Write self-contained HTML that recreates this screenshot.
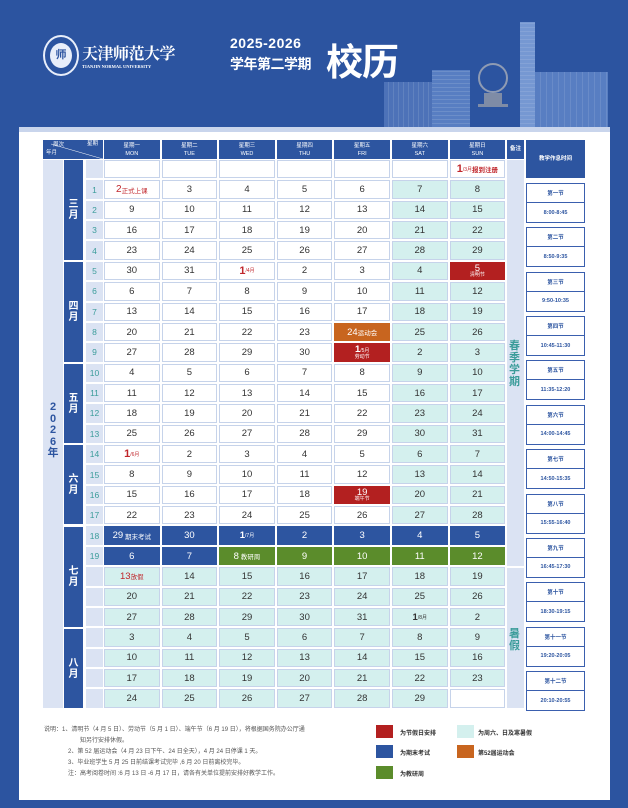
<!DOCTYPE html>
<html><head><meta charset="utf-8">
<style>
*{margin:0;padding:0;box-sizing:border-box}
body{width:628px;height:808px;background:#2c54a0;position:relative;overflow:hidden;font-family:"Liberation Sans","Noto Sans CJK SC",sans-serif}
.a{position:absolute}
#panel{left:19px;top:127px;width:591px;height:673px;background:#fff;border-top:5px solid #c9d5ec}
.grid{position:absolute;display:grid;grid-template-columns:repeat(7,55.6px);grid-auto-rows:18.37px;gap:2px;left:104px;top:160px}
.grid div{display:flex;align-items:center;justify-content:center;font-size:9.5px;color:#333;border:1px solid #c6d3ea;background:#fff;white-space:nowrap}
.grid .t{background:#d4f0ee}
.grid .b{background:#2d55a0;color:#fff;border-color:#2d55a0}
.grid .g{background:#5b8c2b;color:#fff;border-color:#5b8c2b}
.grid .r{background:#b32020;color:#fff;border-color:#b32020;flex-direction:column;line-height:1}
.grid .o{background:#c8651f;color:#fff;border-color:#c8651f}
.grid .rt{color:#c0262b}
.s{font-size:5px}
.m{font-size:6.5px}
.big{font-size:11px;font-weight:bold}
.hdr{position:absolute;top:140px;height:19px;background:#2d55a0;color:#fff;font-size:5.5px;text-align:center;line-height:8px;padding-top:2px}
.mon{position:absolute;left:64px;width:19px;background:#2d55a0;color:#fff;font-size:10px;font-weight:bold;display:flex;align-items:center;justify-content:center;text-align:center;line-height:11px}
.wk{position:absolute;left:86px;top:160px;display:grid;grid-auto-rows:18.37px;gap:2px;width:17px}
.wk div{background:#dbe3f3;color:#3b9c9a;font-size:8.5px;display:flex;align-items:center;justify-content:center}
.pb{position:absolute;left:526px;width:59px;height:40px;border:1.5px solid #3a5fae;background:#fff}
.pb div{height:50%;display:flex;align-items:center;justify-content:center;font-size:5.5px;color:#2d55a0;font-weight:bold}
.pb div:first-child{border-bottom:1.5px solid #3a5fae}
.lg{position:absolute;font-size:6px;color:#333;font-weight:bold}
.sw{position:absolute;width:17px;height:13px}
.note{position:absolute;left:44px;font-size:6px;color:#555;line-height:11px}
</style></head><body>
<!-- header -->
<div class="a" style="left:43px;top:35px;width:36px;height:41px;border-radius:50%;border:2px solid #e8eefa;background:#2c54a0"></div>
<div class="a" style="left:50px;top:43px;width:22px;height:25px;border-radius:50%;background:#e8eefa;color:#2c54a0;font-size:11px;font-weight:bold;text-align:center;line-height:25px">师</div>
<div class="a" style="left:82px;top:41px;color:#fff;font-size:16px;font-family:'Liberation Serif','Noto Serif CJK SC',serif;font-weight:bold;letter-spacing:-0.5px">天津师范大学</div>
<div class="a" style="left:82px;top:64px;color:#fff;font-size:4.5px;font-family:'Liberation Serif',serif;font-weight:bold">TIANJIN NORMAL UNIVERSITY</div>
<div class="a" style="left:230px;top:35px;color:#fff;font-size:14px;font-weight:bold;letter-spacing:0.5px">2025-2026</div>
<div class="a" style="left:230px;top:54px;color:#fff;font-size:14px;font-weight:bold;letter-spacing:-0.5px">学年第二学期</div>
<div class="a" style="left:326px;top:32px;color:#fff;font-size:37px;font-weight:bold;letter-spacing:-1px">校历</div>
<!-- buildings -->
<div class="a" style="left:384px;top:82px;width:56px;height:45px;background:#5176bb;opacity:.9;background-image:repeating-linear-gradient(90deg,transparent 0 4px,rgba(255,255,255,.12) 4px 5px)"></div>
<div class="a" style="left:432px;top:70px;width:38px;height:57px;background:#587ec2;background-image:repeating-linear-gradient(0deg,transparent 0 3px,rgba(255,255,255,.12) 3px 4px)"></div>
<div class="a" style="left:478px;top:63px;width:30px;height:30px;border-radius:50%;border:2px solid #8f9bb3"></div>
<div class="a" style="left:484px;top:93px;width:18px;height:12px;background:#7f8ca6"></div>
<div class="a" style="left:478px;top:104px;width:30px;height:3px;background:#7f8ca6"></div>
<div class="a" style="left:520px;top:22px;width:15px;height:105px;background:#7698d2;background-image:repeating-linear-gradient(0deg,transparent 0 3px,rgba(255,255,255,.1) 3px 4px)"></div>
<div class="a" style="left:535px;top:72px;width:73px;height:55px;background:#587ec2;background-image:repeating-linear-gradient(90deg,transparent 0 5px,rgba(255,255,255,.1) 5px 6px)"></div>
<div id="panel" class="a"></div>
<!-- header row -->
<div class="hdr" style="left:43px;width:60px;text-align:left;padding-left:4px"><svg class="a" style="left:0;top:0" width="60" height="19"><line x1="8" y1="4" x2="60" y2="19" stroke="#fff" stroke-width=".5"/></svg><span style="position:absolute;left:10px;top:1px">周次</span><span style="position:absolute;left:44px;top:0">星期</span><span style="position:absolute;left:3px;top:9px">年月</span></div>
<div class="hdr" style="left:104px;width:55.6px">星期一<br>MON</div>
<div class="hdr" style="left:161.6px;width:55.6px">星期二<br>TUE</div>
<div class="hdr" style="left:219.2px;width:55.6px">星期三<br>WED</div>
<div class="hdr" style="left:276.8px;width:55.6px">星期四<br>THU</div>
<div class="hdr" style="left:334.4px;width:55.6px">星期五<br>FRI</div>
<div class="hdr" style="left:392px;width:55.6px">星期六<br>SAT</div>
<div class="hdr" style="left:449.6px;width:55.6px">星期日<br>SUN</div>
<div class="hdr" style="left:507px;width:17px;line-height:15px;font-weight:bold">备注</div>
<div class="hdr" style="left:526px;width:59px;height:38px;line-height:34px;font-weight:bold">教学作息时间</div>
<!-- year col -->
<div class="a" style="left:43px;top:160px;width:20px;height:548px;background:#dbe3f3"></div>
<div class="a" style="left:46px;top:402px;width:14px;color:#2d55a0;font-size:11px;font-weight:bold;line-height:11.5px;text-align:center">2<br>0<br>2<br>6<br>年</div>
<!-- months -->
<div class="mon" style="top:160px;height:100px">三<br>月</div>
<div class="mon" style="top:262px;height:100px">四<br>月</div>
<div class="mon" style="top:364px;height:79px">五<br>月</div>
<div class="mon" style="top:445px;height:79px">六<br>月</div>
<div class="mon" style="top:527px;height:100px">七<br>月</div>
<div class="mon" style="top:629px;height:79px">八<br>月</div>
<!-- weeks -->
<div class="wk"><div></div><div>1</div><div>2</div><div>3</div><div>4</div><div>5</div><div>6</div><div>7</div><div>8</div><div>9</div><div>10</div><div>11</div><div>12</div><div>13</div><div>14</div><div>15</div><div>16</div><div>17</div><div>18</div><div>19</div><div></div><div></div><div></div><div></div><div></div><div></div><div></div></div>
<!-- remark -->
<div class="a" style="left:507px;top:160px;width:17px;height:406px;background:#dbe3f3"></div>
<div class="a" style="left:507px;top:568px;width:17px;height:140px;background:#dbe3f3"></div>
<div class="a" style="left:509px;top:340px;width:13px;color:#3b9c9a;font-size:11px;font-weight:bold;line-height:12px">春<br>季<br>学<br>期</div>
<div class="a" style="left:509px;top:628px;width:13px;color:#3b9c9a;font-size:11px;font-weight:bold;line-height:12px">暑<br>假</div>
<!-- grid -->
<div class="grid">
<div></div><div></div><div></div><div></div><div></div><div></div><div class="rt"><span class="big">1</span><span class="s">/3月</span><b class="m">报到注册</b></div>
<div class="rt"><span style="font-size:10px">2</span><span class="m">正式上课</span></div><div>3</div><div>4</div><div>5</div><div>6</div><div class="t">7</div><div class="t">8</div>
<div>9</div><div>10</div><div>11</div><div>12</div><div>13</div><div class="t">14</div><div class="t">15</div>
<div>16</div><div>17</div><div>18</div><div>19</div><div>20</div><div class="t">21</div><div class="t">22</div>
<div>23</div><div>24</div><div>25</div><div>26</div><div>27</div><div class="t">28</div><div class="t">29</div>
<div>30</div><div>31</div><div class="rt"><span class="big">1</span><span class="s">/4月</span></div><div>2</div><div>3</div><div class="t">4</div><div class="r"><span>5</span><span class="s">清明节</span></div>
<div>6</div><div>7</div><div>8</div><div>9</div><div>10</div><div class="t">11</div><div class="t">12</div>
<div>13</div><div>14</div><div>15</div><div>16</div><div>17</div><div class="t">18</div><div class="t">19</div>
<div>20</div><div>21</div><div>22</div><div>23</div><div class="o">24<span class="m">运动会</span></div><div class="t">25</div><div class="t">26</div>
<div>27</div><div>28</div><div>29</div><div>30</div><div class="r"><span><b>1</b><span class="s">/5月</span></span><span class="s">劳动节</span></div><div class="t">2</div><div class="t">3</div>
<div>4</div><div>5</div><div>6</div><div>7</div><div>8</div><div class="t">9</div><div class="t">10</div>
<div>11</div><div>12</div><div>13</div><div>14</div><div>15</div><div class="t">16</div><div class="t">17</div>
<div>18</div><div>19</div><div>20</div><div>21</div><div>22</div><div class="t">23</div><div class="t">24</div>
<div>25</div><div>26</div><div>27</div><div>28</div><div>29</div><div class="t">30</div><div class="t">31</div>
<div class="rt"><span class="big">1</span><span class="s">/6月</span></div><div>2</div><div>3</div><div>4</div><div>5</div><div class="t">6</div><div class="t">7</div>
<div>8</div><div>9</div><div>10</div><div>11</div><div>12</div><div class="t">13</div><div class="t">14</div>
<div>15</div><div>16</div><div>17</div><div>18</div><div class="r"><span>19</span><span class="s">端午节</span></div><div class="t">20</div><div class="t">21</div>
<div>22</div><div>23</div><div>24</div><div>25</div><div>26</div><div class="t">27</div><div class="t">28</div>
<div class="b">29<span class="m">&nbsp;期末考试</span></div><div class="b">30</div><div class="b"><b>1</b><span class="s">/7月</span></div><div class="b">2</div><div class="b">3</div><div class="b">4</div><div class="b">5</div>
<div class="b">6</div><div class="b">7</div><div class="g">8<span class="m">&nbsp;教研周</span></div><div class="g">9</div><div class="g">10</div><div class="g">11</div><div class="g">12</div>
<div class="t rt">13<span class="m">放假</span></div><div class="t">14</div><div class="t">15</div><div class="t">16</div><div class="t">17</div><div class="t">18</div><div class="t">19</div>
<div class="t">20</div><div class="t">21</div><div class="t">22</div><div class="t">23</div><div class="t">24</div><div class="t">25</div><div class="t">26</div>
<div class="t">27</div><div class="t">28</div><div class="t">29</div><div class="t">30</div><div class="t">31</div><div class="t"><b>1</b><span class="s">/8月</span></div><div class="t">2</div>
<div class="t">3</div><div class="t">4</div><div class="t">5</div><div class="t">6</div><div class="t">7</div><div class="t">8</div><div class="t">9</div>
<div class="t">10</div><div class="t">11</div><div class="t">12</div><div class="t">13</div><div class="t">14</div><div class="t">15</div><div class="t">16</div>
<div class="t">17</div><div class="t">18</div><div class="t">19</div><div class="t">20</div><div class="t">21</div><div class="t">22</div><div class="t">23</div>
<div class="t">24</div><div class="t">25</div><div class="t">26</div><div class="t">27</div><div class="t">28</div><div class="t">29</div><div></div>
</div>
<!-- periods -->
<div class="pb" style="top:183px"><div>第一节</div><div>8:00-8:45</div></div>
<div class="pb" style="top:227.4px"><div>第二节</div><div>8:50-9:35</div></div>
<div class="pb" style="top:271.7px"><div>第三节</div><div>9:50-10:35</div></div>
<div class="pb" style="top:316.1px"><div>第四节</div><div>10:45-11:30</div></div>
<div class="pb" style="top:360.4px"><div>第五节</div><div>11:35-12:20</div></div>
<div class="pb" style="top:404.8px"><div>第六节</div><div>14:00-14:45</div></div>
<div class="pb" style="top:449.2px"><div>第七节</div><div>14:50-15:35</div></div>
<div class="pb" style="top:493.5px"><div>第八节</div><div>15:55-16:40</div></div>
<div class="pb" style="top:537.9px"><div>第九节</div><div>16:45-17:30</div></div>
<div class="pb" style="top:582.2px"><div>第十节</div><div>18:30-19:15</div></div>
<div class="pb" style="top:626.6px"><div>第十一节</div><div>19:20-20:05</div></div>
<div class="pb" style="top:671px"><div>第十二节</div><div>20:10-20:55</div></div>
<!-- notes -->
<div class="note" style="top:725px">说明：1、清明节（4 月 5 日）、劳动节（5 月 1 日）、端午节（6 月 19 日），将根据国务院办公厅通</div>
<div class="note" style="top:736px;left:80px">知另行安排休假。</div>
<div class="note" style="top:747px;left:68px">2、第 52 届运动会（4 月 23 日下午、24 日全天），4 月 24 日停课 1 天。</div>
<div class="note" style="top:758px;left:68px">3、毕业班学生 5 月 25 日前结课考试完毕 ,6 月 20 日前离校完毕。</div>
<div class="note" style="top:769px;left:68px">注：高考阅卷时间 :6 月 13 日 -6 月 17 日，请各有关单位提前安排好教学工作。</div>
<div class="sw" style="left:376px;top:725px;background:#b32020"></div><div class="lg" style="left:400px;top:728px">为节假日安排</div>
<div class="sw" style="left:457px;top:725px;background:#d4f0ee"></div><div class="lg" style="left:478px;top:728px">为周六、日及寒暑假</div>
<div class="sw" style="left:376px;top:745px;background:#2d55a0"></div><div class="lg" style="left:400px;top:748px">为期末考试</div>
<div class="sw" style="left:457px;top:745px;background:#c8651f"></div><div class="lg" style="left:478px;top:748px">第52届运动会</div>
<div class="sw" style="left:376px;top:766px;background:#5b8c2b"></div><div class="lg" style="left:400px;top:769px">为教研周</div>
</body></html>
